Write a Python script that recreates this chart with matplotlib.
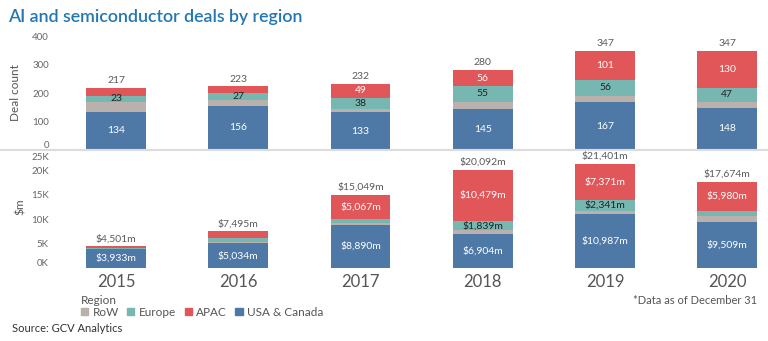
import matplotlib.pyplot as plt
from matplotlib.lines import Line2D
from matplotlib.transforms import ScaledTranslation
import numpy as np

plt.rcParams["font.family"] = ["Lato", "DejaVu Sans"]

years = ["2015", "2016", "2017", "2018", "2019", "2020"]

# deal count by region
count_usa = [134, 156, 133, 145, 167, 148]
count_row = [34, 18, 12, 24, 23, 22]
count_europe = [23, 27, 38, 55, 56, 47]
count_apac = [26, 22, 49, 56, 101, 130]
count_total = [217, 223, 232, 280, 347, 347]

# deal value ($m) by region
usd_usa = [3933, 5034, 8890, 6904, 10987, 9509]
usd_row = [50, 390, 250, 870, 702, 1060]
usd_europe = [70, 710, 842, 1839, 2341, 1125]
usd_apac = [448, 1361, 5067, 10479, 7371, 5980]
usd_total = [4501, 7495, 15049, 20092, 21401, 17674]

C_USA = "#4e79a7"
C_ROW = "#bab0ac"
C_EUR = "#76b7b2"
C_APAC = "#e15759"
GREY = "#5a5a5a"

W, H = 768, 341
fig = plt.figure(figsize=(W / 100, H / 100), dpi=100)


def px_axes(left, top, right, bottom):
    return fig.add_axes([left / W, 1 - bottom / H, (right - left) / W, (bottom - top) / H])


ax1 = px_axes(60, 36, 768, 150)
ax2 = px_axes(60, 146, 768, 268)
ax2.patch.set_alpha(0)

x = np.arange(len(years))
bw = 0.49


def stack(ax, series, colors):
    bottom = np.zeros(len(years))
    segs = []
    for vals, col in zip(series, colors):
        vals = np.array(vals, dtype=float)
        ax.bar(x, vals, bw, bottom=bottom, color=col, edgecolor="none")
        segs.append((vals, bottom.copy()))
        bottom += vals
    return segs


s1 = stack(ax1, [count_usa, count_row, count_europe, count_apac], [C_USA, C_ROW, C_EUR, C_APAC])
s2 = stack(ax2, [usd_usa, usd_row, usd_europe, usd_apac], [C_USA, C_ROW, C_EUR, C_APAC])

# segment labels: (minimum size to show, text colour); RoW never labelled
fs = 7.5
for (vals, bot), rule in zip(s1, [(0, "white"), None, (0, "#222222"), (40, "white")]):
    if rule is None:
        continue
    for i, v in enumerate(vals):
        if v >= rule[0]:
            ax1.text(x[i], bot[i] + v / 2, f"{int(v)}", ha="center", va="center",
                     fontsize=fs, color=rule[1])
for (vals, bot), rule in zip(s2, [(0, "white"), None, (1500, "#222222"), (5000, "white")]):
    if rule is None:
        continue
    for i, v in enumerate(vals):
        if v >= rule[0]:
            ax2.text(x[i], bot[i] + v / 2, f"${int(v):,}m", ha="center", va="center",
                     fontsize=fs, color=rule[1])

for i, t in enumerate(count_total):
    ax1.annotate(f"{t}", (x[i], t), xytext=(0, 2), textcoords="offset points",
                 ha="center", va="bottom", fontsize=fs, color=GREY)
for i, t in enumerate(usd_total):
    ax2.annotate(f"${t:,}m", (x[i], t), xytext=(0, 2), textcoords="offset points",
                 ha="center", va="bottom", fontsize=fs, color=GREY)

xl = (-0.458, 5.333)
for ax in (ax1, ax2):
    ax.set_xlim(*xl)
    for s in ax.spines.values():
        s.set_visible(False)
    ax.tick_params(axis="y", length=0, labelsize=7, labelcolor="#666666", pad=8)

ax1.set_ylim(0, 400)
ax1.set_yticks([0, 100, 200, 300, 400])
ax1.set_xticks([])
ax1.get_yticklabels()[0].set_va("bottom")
ax1.set_ylabel("Deal count", fontsize=8.5, color="#555555", labelpad=8)

ax2.set_ylim(0, 25000)
ax2.set_yticks([0, 5000, 10000, 15000, 20000, 25000])
ax2.set_yticklabels(["0K", "5K", "10K", "15K", "20K", "25K"])
ax2.get_yticklabels()[0].set_va("bottom")
top_lbl = ax2.get_yticklabels()[-1]
top_lbl.set_va("center")
top_lbl.set_transform(top_lbl.get_transform() + ScaledTranslation(0, -0.12, fig.dpi_scale_trans))
ax2.set_ylabel("$m", fontsize=8.5, color="#555555", labelpad=4)
ax2.set_xticks(x)
ax2.set_xticklabels(years)
ax2.tick_params(axis="x", length=0, labelsize=12, labelcolor="#555555", pad=4)

# pane separator
fig.add_artist(Line2D([0, 1], [1 - 150 / H] * 2, color="#dcdcdc", lw=1.5))

fig.text(8 / W, 1 - 17 / H, "AI and semiconductor deals by region", fontsize=12.8,
         color="#2277b3", fontweight="semibold", va="center", ha="left")

# legend
fig.text(81 / W, 1 - 300 / H, "Region", fontsize=8.5, color="#555555", va="center")
handles = [plt.Rectangle((0, 0), 1, 1, color=c) for c in (C_ROW, C_EUR, C_APAC, C_USA)]
fig.legend(handles, ["RoW", "Europe", "APAC", "USA & Canada"], loc="center left",
           bbox_to_anchor=(81 / W, 1 - 312 / H), ncol=4, frameon=False, fontsize=8.5,
           handlelength=0.6, handleheight=0.6, handletextpad=0.4, columnspacing=0.7,
           borderpad=0, borderaxespad=0, labelcolor="#555555")

fig.text(757 / W, 1 - 300 / H, "*Data as of December 31", fontsize=8, color="#555555",
         ha="right", va="center")
fig.text(12 / W, 1 - 329 / H, "Source: GCV Analytics", fontsize=8, color="#333333",
         va="center")

fig.savefig("out.png", dpi=100)
